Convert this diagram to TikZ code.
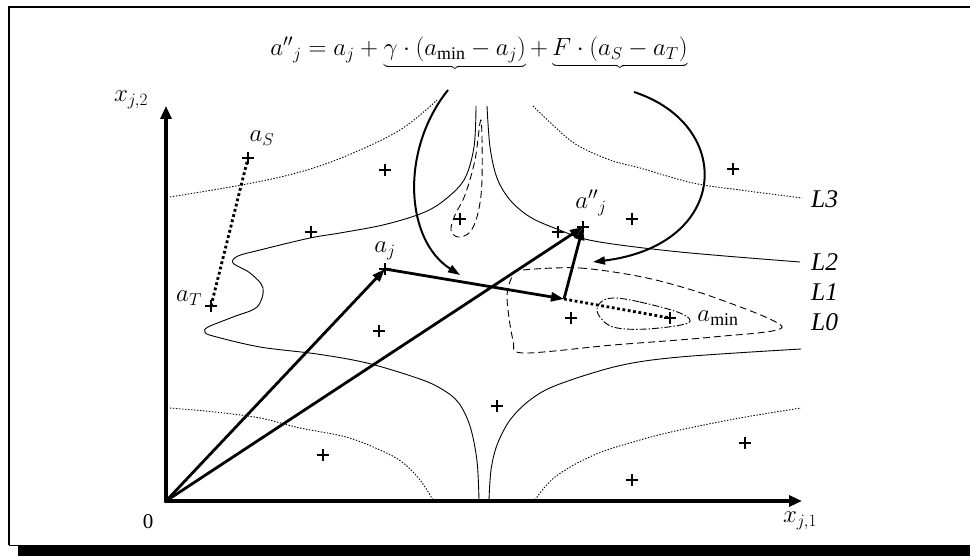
\documentclass[tikz,border=0pt]{standalone}
\usepackage{fontspec}
\setmainfont{Liberation Serif}
\usetikzlibrary{arrows.meta}
\begin{document}
\begin{tikzpicture}[x=1pt,y=-1pt,
  lbl/.style={inner sep=0pt, font=\fontsize{25.5}{30}\selectfont},
  pm/.style={inner sep=0pt, minimum size=12pt,
    path picture={\draw[line width=2.8pt] (path picture bounding box.north)--(path picture bounding box.south)
      (path picture bounding box.west)--(path picture bounding box.east);}},
  axis/.style={line width=3.2pt, -{Triangle[length=13pt,width=11pt]}},
  vec/.style={line width=2.8pt, -{Triangle[length=13pt,width=9pt]}},
  curvarrow/.style={line width=2pt, -{Triangle[length=12pt,width=8pt]}},
  dotline/.style={line width=2.8pt, dash pattern=on 2.8pt off 2.6pt},
  lthree/.style={line width=0.9pt, dash pattern=on 1.4pt off 1.6pt},
  ltwo/.style={line width=0.9pt},
  lone/.style={line width=0.9pt, dash pattern=on 7pt off 4pt},
  lzero/.style={line width=0.9pt, dash pattern=on 7pt off 2pt on 1.5pt off 2pt}
]
\useasboundingbox (0,0) rectangle (970,556);
% frame with shadow
\fill[black] (18,545) rectangle (970,556);
\draw[line width=2pt] (9,545) -- (9,7) -- (975,7);
\draw[line width=1pt] (9,545) -- (970,545);

% contour lines L3 (dotted)
\draw[lthree] plot[smooth, tension=0.6] coordinates {(170,197) (247,184) (300,172) (346,156) (400,130) (437,100)};
\draw[lthree] plot[smooth, tension=0.6] coordinates {(533,106) (555,127) (577,145) (610,160) (640,168) (693,183) (740,190) (802,198)};
\draw[lthree] plot[smooth, tension=0.6] coordinates {(170,408) (215,412) (260,418) (300,428) (346,437) (380,450) (402,462) (420,480) (433,500)};
\draw[lthree] plot[smooth, tension=0.6] coordinates {(535,500) (555,477) (594,455) (640,440) (680,430) (740,418) (801,408)};
% L2 (solid)
\draw[ltwo] plot[smooth, tension=0.55] coordinates {(476,106) (474,147) (464,180) (442,202) (420,214) (383,225) (340,233) (310,238) (260,250) (238,256) (233,263) (250,273) (263,288) (257,307) (233,317) (208,327) (205,332) (213,336) (260,347) (317,354) (367,363) (417,378) (440,388) (458,402) (470,426) (477,461) (479,500)};
\draw[ltwo] plot[smooth, tension=0.55] coordinates {(487,106) (490,147) (497,178) (510,200) (530,217) (557,229) (594,241) (680,252) (800,262)};
\draw[ltwo] plot[smooth, tension=0.55] coordinates {(489,500) (491,470) (497,445) (510,420) (530,400) (557,385) (618,366) (680,357) (801,349)};
% L1 (dashed)
\draw[lone] plot[smooth cycle, tension=0.6] coordinates {(481,120) (482,180) (478,213) (470,232) (458,237) (451,230) (455,215) (465,195) (475,160)};
\draw[lone] plot[smooth cycle, tension=0.5] coordinates {(523,270) (580,268) (647,278) (713,297) (782,327) (713,337) (613,345) (523,353) (513,340) (507,297) (513,275)};
% L0 (dash-dot)
\draw[lzero] plot[smooth cycle, tension=0.6] coordinates {(613,298) (640,302) (680,313) (688,323) (647,329) (613,327) (598,314) (600,303)};

% key points
\coordinate (O) at (166,501);
\coordinate (xend) at (802,501);
\coordinate (yend) at (166,106);
\coordinate (aS) at (248,158);
\coordinate (aT) at (211,306);
\coordinate (aj) at (385,269);
\coordinate (ajpp) at (583,227);
\coordinate (amin) at (670,318);
\coordinate (mid) at (564,299);

% plus marks
\node[pm] (paS) at (aS) {};
\node[pm] (paT) at (aT) {};
\node[pm] (paj) at (aj) {};
\node[pm] (pajpp) at (ajpp) {};
\node[pm] (pamin) at (amin) {};
\node[pm] (p1) at (385,170) {};
\node[pm] (p2) at (311,232) {};
\node[pm] (p3) at (460,219) {};
\node[pm] (p4) at (558,232) {};
\node[pm] (p5) at (632,219) {};
\node[pm] (p6) at (733,169) {};
\node[pm] (p7) at (379,331) {};
\node[pm] (p8) at (571,318) {};
\node[pm] (p9) at (497,406) {};
\node[pm] (p10) at (323,455) {};
\node[pm] (p11) at (745,443) {};
\node[pm] (p12) at (632,480) {};

% axes
\draw[axis] (O) -- (xend);
\draw[axis] (O) -- (yend);
\fill (O) circle (2.2pt);

% vectors
\draw[dotline] (aT) -- (aS);
\draw[dotline] (mid) -- (amin);
\draw[vec] (O) -- (aj);
\draw[vec] (O) -- (ajpp);
\draw[vec] (aj) -- (mid);
\draw[vec] (mid) -- (ajpp);

% labels
\node[lbl] (lxj2) at (131,100) {$x_{j,2}$};
\node[lbl] (lxj1) at (800,521) {$x_{j,1}$};
\node[lbl, font=\fontsize{21}{24}\selectfont] (lzero) at (148,522) {0};
\node[lbl] (laS) at (262,138) {$a_S$};
\node[lbl] (laT) at (189,298) {$a_T$};
\node[lbl] (laj) at (385,251) {$a_j$};
\node[lbl] (lajpp) at (591,203) {${a''}_j$};
\node[lbl] (lamin) at (718,318) {$a_{\min}$};
\node[lbl, anchor=west] (L3) at (811,199) {\textit{L3}};
\node[lbl, anchor=west] (L2) at (811,262) {\textit{L2}};
\node[lbl, anchor=west] (L1) at (811,292) {\textit{L1}};
\node[lbl, anchor=west] (L0) at (811,322) {\textit{L0}};

% formula
\node[lbl, anchor=north] (formula) at (479,37) {${a''}_j = a_j + \underbrace{\gamma\cdot(a_{\min}-a_j)}_{} + \underbrace{F\cdot(a_S-a_T)}_{}$};
\coordinate (s1) at (448,90);
\coordinate (s2) at (634,92);
\coordinate (t1) at (460,275);
\coordinate (t2) at (593,262);
\draw[curvarrow] (s1) .. controls (400,150) and (405,240) .. (t1);
\draw[curvarrow] (s2) .. controls (735,125) and (730,245) .. (t2);
\end{tikzpicture}
\end{document}
